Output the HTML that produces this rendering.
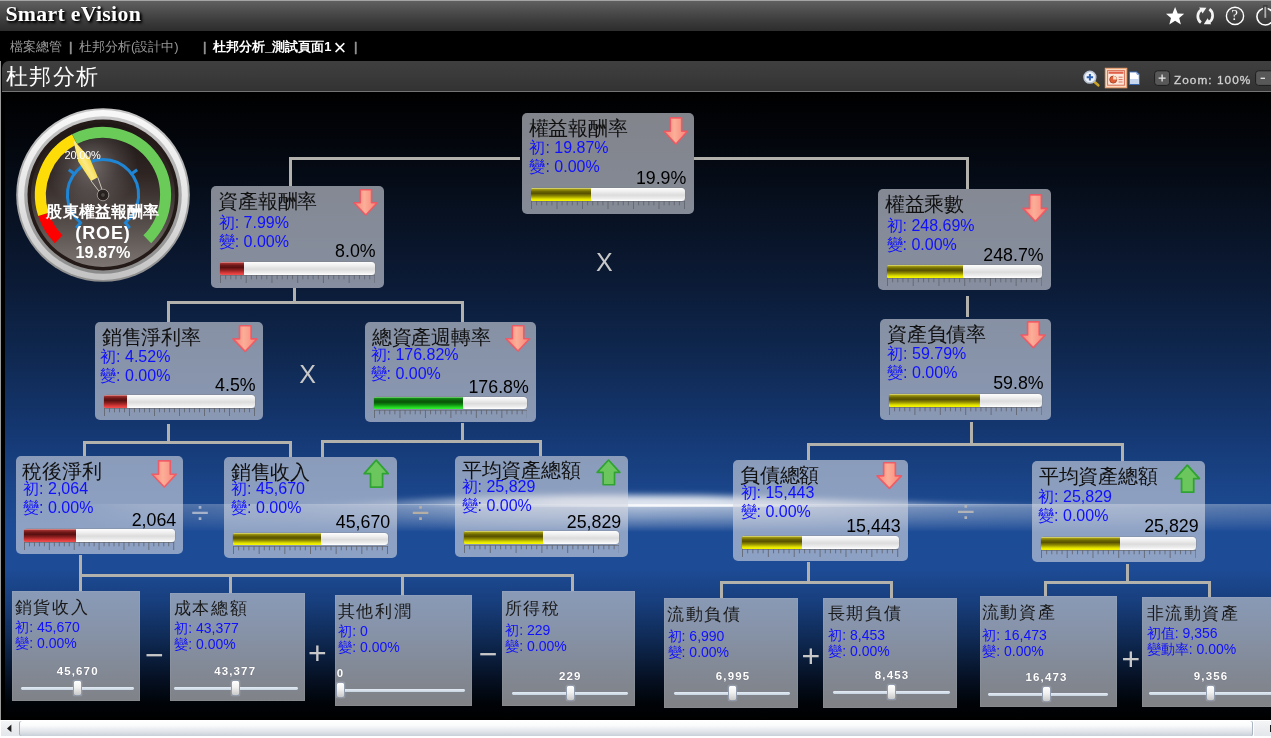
<!DOCTYPE html>
<html><head><meta charset="utf-8"><title>Smart eVision</title>
<style>
*{box-sizing:border-box}
html,body{margin:0;padding:0}
body{width:1271px;height:738px;overflow:hidden;background:#000;position:relative;font-family:"Liberation Sans",sans-serif;}
div,span,svg{position:absolute}
.hdr{left:0;top:0;width:1271px;height:31px;background:linear-gradient(#606060,#4c4c4c 35%,#363636 78%,#2d2d2d);border-top:1px solid #a4a4a4}
.brand{left:5.4px;top:1.6px;font-family:"Liberation Serif",serif;font-weight:bold;font-size:21.8px;color:#fff;text-shadow:2px 2px 3px #000,1px 1px 2px #000;white-space:nowrap;letter-spacing:.3px}
.tabs{left:0;top:31px;width:1271px;height:30px;background:#000}
.tab{top:39px;font-size:13px;color:#9a9a9a;white-space:nowrap;line-height:16px}
.tab.on{color:#fff;font-weight:bold}
.ttl{left:2px;top:61px;width:1269px;height:30px;background:linear-gradient(#3f3f3f,#3b3b3b 40%,#323232);border-radius:7px 0 0 0}
.ttlline{left:2px;top:90.7px;width:1269px;height:1.3px;background:#747474}
.ttltxt{left:5.5px;top:64.3px;font-size:22px;color:#fff;white-space:nowrap;line-height:26px;letter-spacing:1.5px}
.ledge{left:0;top:61px;width:1px;height:660px;background:#9a9a9a}
.cv{left:5px;top:92px;width:1266px;height:628px;background:linear-gradient(to bottom,#000 0%,#03060c 8%,#07101f 18%,#0b1a35 30%,#0f2850 42%,#14366f 53%,#1a4589 63%,#1d4c97 70%,#1d4b95 76%,#183f7e 81%,#0f2a55 87%,#061226 93%,#000307 97.5%,#000 100%)}
.ln{background:#b3b1ab}
.bx{background:rgba(213,216,226,.61);border-radius:5px}
.lf{background:rgba(210,211,216,.61);box-shadow:inset 0 0 0 1px rgba(255,255,255,.06)}
.t{white-space:nowrap;color:#111;font-size:19px;line-height:22px}
.b{white-space:nowrap;color:#1010ff;font-size:16px;line-height:18px}
.v{white-space:nowrap;color:#000;font-size:17px;line-height:18px;text-align:right}
.lt{white-space:nowrap;color:#1a1a1a;font-size:17px;line-height:20px;letter-spacing:1.6px}
.lb{white-space:nowrap;color:#1010ff;font-size:14px;line-height:16px}
.sv{white-space:nowrap;color:#fff;font-weight:bold;font-size:11.5px;line-height:12px;letter-spacing:1.15px;text-shadow:0 0 1px rgba(0,0,0,.35)}
.trk{height:2.8px;background:linear-gradient(#e4edf6,#c6d3e0);border-radius:1.4px}
.thm{width:9.4px;height:16.4px;border-radius:2.5px;background:linear-gradient(#fff,#f1f1f1 45%,#c9c9c9);border:1px solid #929db0;box-shadow:0 0 1px rgba(255,255,255,.7)}
.bar{border-radius:3.5px;background:linear-gradient(#fdfdfd 0%,#f0f0f0 25%,#dcdcdc 55%,#ececec 80%,#fff 100%);box-shadow:0 0 0 .6px rgba(120,120,120,.55)}
.fy{background:linear-gradient(#f2f2a0 0%,#a39c12 9%,#6a6400 28%,#595200 42%,#8f8a00 62%,#e4e400 85%,#f8f800 100%)}
.fr{background:linear-gradient(#f4b0b0 0%,#a33030 9%,#6a1616 28%,#5a1010 42%,#8e2020 62%,#dc3a3a 85%,#f25050 100%)}
.fg{background:linear-gradient(#a0f0a0 0%,#169016 9%,#0a640a 28%,#085408 42%,#0e860e 62%,#22d422 85%,#34f234 100%)}
.fill{border-radius:1.5px 0 0 1.5px}
.op{color:#c8c8c8;white-space:nowrap}
.sb{left:0;top:720px;width:1271px;height:18px;background:#fff}
</style></head>
<body>
<div id="root" style="left:0;top:0;width:1271px;height:738px;will-change:transform">

<div class="hdr"></div>
<div class="brand">Smart eVision</div>
<svg style="left:1160px;top:0" width="111" height="31" viewBox="1160 0 111 31">
<path d="M1175.1 7 L1177.7 13.4 L1184.2 13.7 L1179.2 17.9 L1180.9 24.4 L1175.1 20.8 L1169.3 24.4 L1171 17.9 L1166 13.7 L1172.5 13.4 Z" fill="#fff"/>
<g fill="none" stroke="#f4f4f4" stroke-linecap="butt">
<path d="M1200.9 22.6 A8 8 0 0 1 1201.4 9.6" stroke-width="2.7"/>
<path d="M1209.4 9.2 A8 8 0 0 1 1209.2 22.2" stroke-width="2.7"/>
</g>
<path d="M1199.2 7.4 L1206.4 7.7 L1202.6 13.6 Z" fill="#f4f4f4"/>
<path d="M1211.2 24.2 L1203.8 24.3 L1207.6 18.2 Z" fill="#f4f4f4"/>
<circle cx="1235" cy="15.9" r="8.6" fill="none" stroke="#fff" stroke-width="1.4"/>
<circle cx="1265.3" cy="16.6" r="8.4" fill="none" stroke="#fff" stroke-width="1.6"/>
<rect x="1263" y="5" width="4.6" height="9" fill="#3f3f3f"/>
<rect x="1264.4" y="6.8" width="1.8" height="11" fill="#b0b0b0"/>
</svg>
<div style="left:1231.2px;top:7.2px;font-family:'Liberation Serif',serif;font-size:15px;line-height:17px;color:#fff">?</div>
<div class="tabs"></div>
<div class="tab" style="left:10px">檔案總管</div>
<div class="tab" style="left:69px;-webkit-text-stroke:.6px #9a9a9a">|</div>
<div class="tab" style="left:79px">杜邦分析(設計中)</div>
<div class="tab" style="left:203px;-webkit-text-stroke:.6px #9a9a9a">|</div>
<div class="tab on" style="left:213px">杜邦分析_測試頁面1</div>
<div class="tab on" style="left:333.6px;font-weight:normal;font-size:22px;line-height:22px;top:37px">×</div>
<div class="tab" style="left:354px;-webkit-text-stroke:.6px #9a9a9a">|</div>
<div class="ttl"></div><div class="ttlline"></div><div class="ledge"></div>
<div class="ttltxt">杜邦分析</div>
<svg style="left:1080px;top:64px" width="191" height="27" viewBox="1080 64 191 27">
<line x1="1093.5" y1="81" x2="1098.3" y2="85.3" stroke="#c9a227" stroke-width="2.6" stroke-linecap="round"/>
<circle cx="1089.9" cy="77.2" r="5.9" fill="#eef3fb" stroke="#b9c3d3" stroke-width="1.5"/>
<path d="M1086.7 77.2H1093.1M1089.9 74V80.4" stroke="#2d5fb3" stroke-width="2"/>
<rect x="1105.3" y="68.3" width="21.5" height="19.5" fill="#fbd9bf" stroke="#f0a070" stroke-width="1"/>
<rect x="1107.6" y="70.6" width="16.8" height="14.6" fill="#fce8da" stroke="#d9705a" stroke-width="1"/>
<rect x="1108.6" y="71.6" width="14.8" height="2.2" fill="#e0604a"/>
<circle cx="1113.2" cy="79.6" r="3.5" fill="#e0603a" stroke="#a33a20" stroke-width=".8"/>
<path d="M1113.2 79.6 V76.1 A3.5 3.5 0 0 1 1116.7 79.6 Z" fill="#fbe0c8"/>
<path d="M1118.6 77.2H1122.6M1118.6 79.6H1122.6M1118.6 82H1122.6" stroke="#d9705a" stroke-width="1"/>
<path d="M1129.4 71.9 H1137 L1139.3 74.2 V84.5 H1129.4 Z" fill="#fff" stroke="#3a66ad" stroke-width="1"/>
<path d="M1130 79 H1138.8 V84 H1130 Z" fill="#c5d6ee"/>
<path d="M1137 71.9 V74.2 H1139.3" fill="none" stroke="#3a66ad" stroke-width=".8"/>
<rect x="1154.6" y="70.8" width="15" height="14.6" rx="3" fill="#585858" stroke="#1e1e1e" stroke-width="1"/>
<path d="M1158.6 78.1H1165.6M1162.1 74.6V81.6" stroke="#e8e8e8" stroke-width="1.3"/>
<rect x="1255.6" y="70.8" width="18" height="14.6" rx="3" fill="#585858" stroke="#1e1e1e" stroke-width="1"/>
<path d="M1260.6 78.3H1265" stroke="#e8e8e8" stroke-width="1.3"/>
</svg>
<div style="left:1174px;top:73.6px;font-size:11.8px;line-height:13px;color:#d2d2d2;letter-spacing:1.05px;white-space:nowrap;-webkit-text-stroke:.3px #d2d2d2">Zoom: 100%</div>
<div class="cv"></div>
<svg style="left:5px;top:470px" width="1266" height="36" viewBox="5 470 1266 36">
<defs>
<filter id="fb" x="-5%" y="-200%" width="110%" height="500%"><feGaussianBlur stdDeviation="9 3.1"/></filter>
<linearGradient id="fg1" x1="5" x2="1271" y1="0" y2="0" gradientUnits="userSpaceOnUse">
<stop offset="0.22" stop-color="#fff" stop-opacity="0"/><stop offset="0.30" stop-color="#fff" stop-opacity=".3"/><stop offset="0.38" stop-color="#fff" stop-opacity=".6"/><stop offset="0.44" stop-color="#fff" stop-opacity=".85"/><stop offset="0.56" stop-color="#fff" stop-opacity=".85"/><stop offset="0.66" stop-color="#fff" stop-opacity=".7"/><stop offset="0.74" stop-color="#fff" stop-opacity=".5"/><stop offset="0.80" stop-color="#fff" stop-opacity=".3"/><stop offset="0.86" stop-color="#fff" stop-opacity="0"/>
</linearGradient>
<clipPath id="fcp"><rect x="5" y="470" width="1266" height="34.5"/></clipPath>
</defs>
<g clip-path="url(#fcp)"><path filter="url(#fb)" fill="url(#fg1)" d="M270 506 L360 502.5 L430 499 L510 496 L600 495 L700 495.5 L780 498 L860 501 L940 504 L1020 506 L1090 507 V518 H270 Z"/></g>
</svg>
<div style="left:5px;top:504px;width:1266px;height:28px;background:linear-gradient(to bottom,rgba(255,255,255,.8),rgba(255,255,255,.64) 18%,rgba(255,255,255,.47) 45%,rgba(255,255,255,.24) 74%,rgba(255,255,255,0) 100%);-webkit-mask-image:linear-gradient(to right,rgba(0,0,0,0) 0.0%,rgba(0,0,0,0) 4.3%,rgba(0,0,0,0.27) 11.5%,rgba(0,0,0,0.4) 23.3%,rgba(0,0,0,0.62) 32.8%,rgba(0,0,0,0.85) 40.7%,rgba(0,0,0,0.95) 50.2%,rgba(0,0,0,0.85) 59.6%,rgba(0,0,0,0.6) 70.7%,rgba(0,0,0,0.52) 78.6%,rgba(0,0,0,0.38) 100.0%);mask-image:linear-gradient(to right,rgba(0,0,0,0) 0.0%,rgba(0,0,0,0) 4.3%,rgba(0,0,0,0.27) 11.5%,rgba(0,0,0,0.4) 23.3%,rgba(0,0,0,0.62) 32.8%,rgba(0,0,0,0.85) 40.7%,rgba(0,0,0,0.95) 50.2%,rgba(0,0,0,0.85) 59.6%,rgba(0,0,0,0.6) 70.7%,rgba(0,0,0,0.52) 78.6%,rgba(0,0,0,0.38) 100.0%)"></div>
<div style="left:5px;top:503.5px;width:1266px;height:3.5px;background:linear-gradient(to bottom,rgba(255,255,255,.5),rgba(255,255,255,.95) 45%,rgba(255,255,255,.6));-webkit-mask-image:linear-gradient(to right,rgba(0,0,0,0) 0.0%,rgba(0,0,0,0) 33.6%,rgba(0,0,0,0.35) 40.7%,rgba(0,0,0,0.8) 46.2%,rgba(0,0,0,0.95) 50.2%,rgba(0,0,0,0.95) 57.3%,rgba(0,0,0,0.55) 62.8%,rgba(0,0,0,0.2) 70.7%,rgba(0,0,0,0.05) 78.6%,rgba(0,0,0,0) 100.0%);mask-image:linear-gradient(to right,rgba(0,0,0,0) 0.0%,rgba(0,0,0,0) 33.6%,rgba(0,0,0,0.35) 40.7%,rgba(0,0,0,0.8) 46.2%,rgba(0,0,0,0.95) 50.2%,rgba(0,0,0,0.95) 57.3%,rgba(0,0,0,0.55) 62.8%,rgba(0,0,0,0.2) 70.7%,rgba(0,0,0,0.05) 78.6%,rgba(0,0,0,0) 100.0%)"></div>
<div class="ln" style="left:289.0px;top:157.0px;width:231.0px;height:3.0px"></div>
<div class="ln" style="left:289.0px;top:157.0px;width:3.0px;height:29.0px"></div>
<div class="ln" style="left:694.0px;top:157.0px;width:275.0px;height:3.0px"></div>
<div class="ln" style="left:966.0px;top:157.0px;width:3.0px;height:32.0px"></div>
<div class="ln" style="left:293.0px;top:287.5px;width:3.0px;height:14.5px"></div>
<div class="ln" style="left:167.0px;top:301.0px;width:297.0px;height:3.0px"></div>
<div class="ln" style="left:167.0px;top:301.0px;width:3.0px;height:21.0px"></div>
<div class="ln" style="left:461.0px;top:301.0px;width:3.0px;height:21.0px"></div>
<div class="ln" style="left:966.2px;top:295.6px;width:2.8px;height:21.0px"></div>
<div class="ln" style="left:970.0px;top:422.4px;width:3.0px;height:21.6px"></div>
<div class="ln" style="left:807.0px;top:443.0px;width:317.0px;height:3.0px"></div>
<div class="ln" style="left:807.0px;top:443.0px;width:3.0px;height:17.0px"></div>
<div class="ln" style="left:1121.0px;top:443.0px;width:3.0px;height:18.0px"></div>
<div class="ln" style="left:167.4px;top:424.0px;width:2.6px;height:18.0px"></div>
<div class="ln" style="left:83.0px;top:441.0px;width:209.0px;height:3.0px"></div>
<div class="ln" style="left:83.0px;top:441.0px;width:3.0px;height:15.4px"></div>
<div class="ln" style="left:289.0px;top:441.0px;width:3.0px;height:16.0px"></div>
<div class="ln" style="left:461.0px;top:423.0px;width:3.0px;height:18.0px"></div>
<div class="ln" style="left:321.0px;top:440.0px;width:221.0px;height:3.0px"></div>
<div class="ln" style="left:321.0px;top:440.0px;width:3.0px;height:17.0px"></div>
<div class="ln" style="left:539.0px;top:440.0px;width:3.0px;height:16.0px"></div>
<div class="ln" style="left:79.4px;top:555.0px;width:2.6px;height:21.0px"></div>
<div class="ln" style="left:79.4px;top:574.4px;width:494.6px;height:3.0px"></div>
<div class="ln" style="left:79.4px;top:576.0px;width:2.6px;height:15.4px"></div>
<div class="ln" style="left:229.0px;top:576.0px;width:3.0px;height:16.6px"></div>
<div class="ln" style="left:401.0px;top:576.0px;width:3.0px;height:19.0px"></div>
<div class="ln" style="left:571.0px;top:576.0px;width:3.0px;height:15.4px"></div>
<div class="ln" style="left:807.0px;top:562.0px;width:3.0px;height:20.0px"></div>
<div class="ln" style="left:720.0px;top:581.0px;width:173.0px;height:3.0px"></div>
<div class="ln" style="left:720.0px;top:581.0px;width:3.0px;height:17.4px"></div>
<div class="ln" style="left:890.4px;top:581.0px;width:2.6px;height:16.6px"></div>
<div class="ln" style="left:1126.4px;top:564.0px;width:2.6px;height:18.0px"></div>
<div class="ln" style="left:1044.0px;top:580.6px;width:167.0px;height:3.4px"></div>
<div class="ln" style="left:1044.0px;top:581.0px;width:3.0px;height:15.4px"></div>
<div class="ln" style="left:1208.0px;top:581.0px;width:3.0px;height:16.0px"></div>
<div class="op" style="left:584.3px;width:40px;text-align:center;top:250.4px;font-size:25px;line-height:25px">X</div>
<div class="op" style="left:287.5px;width:40px;text-align:center;top:361.6px;font-size:25px;line-height:25px">X</div>
<div class="op" style="left:180.0px;width:40px;text-align:center;top:496.0px;font-size:32px;line-height:32px;color:#a6b2c9">÷</div>
<div class="op" style="left:400.5px;width:40px;text-align:center;top:496.0px;font-size:32px;line-height:32px;color:#b4aea4">÷</div>
<div class="op" style="left:945.8px;width:40px;text-align:center;top:495.4px;font-size:32px;line-height:32px;color:#b0b4b8">÷</div>
<div class="op" style="left:134.3px;width:40px;text-align:center;top:638.6px;font-size:32px;line-height:32px">−</div>
<div class="op" style="left:297.3px;width:40px;text-align:center;top:636.7px;font-size:32px;line-height:32px">+</div>
<div class="op" style="left:468.2px;width:40px;text-align:center;top:637.6px;font-size:32px;line-height:32px">−</div>
<div class="op" style="left:790.8px;width:40px;text-align:center;top:640.4px;font-size:32px;line-height:32px">+</div>
<div class="op" style="left:1110.8px;width:40px;text-align:center;top:643.4px;font-size:32px;line-height:32px">+</div>
<div class="bx" style="left:522.0px;top:113.0px;width:172.0px;height:101.0px"></div>
<div class="t" style="left:528.6px;top:116.9px;font-size:20.00px;letter-spacing:-.25px">權益報酬率</div>
<div class="b" style="left:529.4px;top:138.6px;font-size:16.00px">初: 19.87%</div>
<div class="b" style="left:529.4px;top:157.6px;font-size:16.00px">變: 0.00%</div>
<div class="v" style="left:566.3px;width:120px;top:169.3px;font-size:17.80px">19.9%</div>
<svg style="left:662.8px;top:116.7px;overflow:visible" width="25.2" height="28.1" viewBox="0 0 25 27" preserveAspectRatio="none"><defs><linearGradient id="ad0" x1="0" x2="1" y1="0" y2="0"><stop offset="0" stop-color="#f88478"/><stop offset=".45" stop-color="#fbae98"/><stop offset="1" stop-color="#f88478"/></linearGradient></defs><path d="M7.3 0.8 H18.5 V13.7 H24.2 L12.8 26 L1 13.7 H7.3 Z" fill="url(#ad0)" stroke="#f4525e" stroke-opacity=".85" stroke-width="1.6" stroke-linejoin="round"/></svg>
<div class="bar" style="left:531.0px;top:188.0px;width:154.0px;height:13.0px"></div>
<div class="fill fy" style="left:531.0px;top:188.0px;width:60.3px;height:13.0px"></div>
<svg style="left:531.0px;top:201.3px" width="154.0" height="9"><path d="M0 .5H154.0" stroke="#6d717b" stroke-opacity=".75" stroke-width="1" fill="none"/><path d="M0.50 0V8M5.60 0V4.3M10.70 0V4.3M15.80 0V4.3M20.90 0V4.3M26.00 0V8M31.10 0V4.3M36.20 0V4.3M41.30 0V4.3M46.40 0V4.3M51.50 0V8M56.60 0V4.3M61.70 0V4.3M66.80 0V4.3M71.90 0V4.3M77.00 0V8M82.10 0V4.3M87.20 0V4.3M92.30 0V4.3M97.40 0V4.3M102.50 0V8M107.60 0V4.3M112.70 0V4.3M117.80 0V4.3M122.90 0V4.3M128.00 0V8M133.10 0V4.3M138.20 0V4.3M143.30 0V4.3M148.40 0V4.3M153.50 0V8" stroke="#5f636d" stroke-opacity=".82" stroke-width="1" fill="none"/></svg>
<div class="bx" style="left:210.5px;top:186.0px;width:173.5px;height:101.5px"></div>
<div class="t" style="left:218.4px;top:189.6px;font-size:20.00px;letter-spacing:-.25px">資產報酬率</div>
<div class="b" style="left:218.7px;top:214.1px;font-size:16.00px">初: 7.99%</div>
<div class="b" style="left:218.7px;top:232.7px;font-size:16.00px">變: 0.00%</div>
<div class="v" style="left:255.6px;width:120px;top:242.2px;font-size:17.80px">8.0%</div>
<svg style="left:353.0px;top:189.0px;overflow:visible" width="25.0" height="27.0" viewBox="0 0 25 27" preserveAspectRatio="none"><defs><linearGradient id="ad1" x1="0" x2="1" y1="0" y2="0"><stop offset="0" stop-color="#f88478"/><stop offset=".45" stop-color="#fbae98"/><stop offset="1" stop-color="#f88478"/></linearGradient></defs><path d="M7.3 0.8 H18.5 V13.7 H24.2 L12.8 26 L1 13.7 H7.3 Z" fill="url(#ad1)" stroke="#f4525e" stroke-opacity=".85" stroke-width="1.6" stroke-linejoin="round"/></svg>
<div class="bar" style="left:219.6px;top:262.0px;width:155.4px;height:12.6px"></div>
<div class="fill fr" style="left:219.6px;top:262.0px;width:24.8px;height:12.6px"></div>
<svg style="left:219.6px;top:274.9px" width="155.4" height="9"><path d="M0 .5H155.4" stroke="#6d717b" stroke-opacity=".75" stroke-width="1" fill="none"/><path d="M0.50 0V8M5.65 0V4.3M10.79 0V4.3M15.94 0V4.3M21.09 0V4.3M26.23 0V8M31.38 0V4.3M36.53 0V4.3M41.67 0V4.3M46.82 0V4.3M51.97 0V8M57.11 0V4.3M62.26 0V4.3M67.41 0V4.3M72.55 0V4.3M77.70 0V8M82.85 0V4.3M87.99 0V4.3M93.14 0V4.3M98.29 0V4.3M103.43 0V8M108.58 0V4.3M113.73 0V4.3M118.87 0V4.3M124.02 0V4.3M129.17 0V8M134.31 0V4.3M139.46 0V4.3M144.61 0V4.3M149.75 0V4.3M154.90 0V8" stroke="#5f636d" stroke-opacity=".82" stroke-width="1" fill="none"/></svg>
<div class="bx" style="left:878.0px;top:189.0px;width:173.0px;height:101.4px"></div>
<div class="t" style="left:884.8px;top:193.1px;font-size:20.00px;letter-spacing:-.25px">權益乘數</div>
<div class="b" style="left:886.5px;top:216.7px;font-size:16.00px">初: 248.69%</div>
<div class="b" style="left:886.5px;top:236.1px;font-size:16.00px">變: 0.00%</div>
<div class="v" style="left:923.6px;width:120px;top:245.6px;font-size:17.80px">248.7%</div>
<svg style="left:1022.4px;top:194.0px;overflow:visible" width="26.2" height="28.4" viewBox="0 0 25 27" preserveAspectRatio="none"><defs><linearGradient id="ad2" x1="0" x2="1" y1="0" y2="0"><stop offset="0" stop-color="#f88478"/><stop offset=".45" stop-color="#fbae98"/><stop offset="1" stop-color="#f88478"/></linearGradient></defs><path d="M7.3 0.8 H18.5 V13.7 H24.2 L12.8 26 L1 13.7 H7.3 Z" fill="url(#ad2)" stroke="#f4525e" stroke-opacity=".85" stroke-width="1.6" stroke-linejoin="round"/></svg>
<div class="bar" style="left:886.6px;top:265.0px;width:155.4px;height:12.6px"></div>
<div class="fill fy" style="left:886.6px;top:265.0px;width:76.4px;height:12.6px"></div>
<svg style="left:886.6px;top:277.9px" width="155.4" height="9"><path d="M0 .5H155.4" stroke="#6d717b" stroke-opacity=".75" stroke-width="1" fill="none"/><path d="M0.50 0V8M5.65 0V4.3M10.79 0V4.3M15.94 0V4.3M21.09 0V4.3M26.23 0V8M31.38 0V4.3M36.53 0V4.3M41.67 0V4.3M46.82 0V4.3M51.97 0V8M57.11 0V4.3M62.26 0V4.3M67.41 0V4.3M72.55 0V4.3M77.70 0V8M82.85 0V4.3M87.99 0V4.3M93.14 0V4.3M98.29 0V4.3M103.43 0V8M108.58 0V4.3M113.73 0V4.3M118.87 0V4.3M124.02 0V4.3M129.17 0V8M134.31 0V4.3M139.46 0V4.3M144.61 0V4.3M149.75 0V4.3M154.90 0V8" stroke="#5f636d" stroke-opacity=".82" stroke-width="1" fill="none"/></svg>
<div class="bx" style="left:95.0px;top:322.0px;width:168.4px;height:98.4px"></div>
<div class="t" style="left:101.8px;top:326.2px;font-size:20.00px;letter-spacing:-.25px">銷售淨利率</div>
<div class="b" style="left:100.1px;top:348.1px;font-size:16.00px">初: 4.52%</div>
<div class="b" style="left:100.1px;top:367.1px;font-size:16.00px">變: 0.00%</div>
<div class="v" style="left:135.6px;width:120px;top:376.2px;font-size:17.80px">4.5%</div>
<svg style="left:231.6px;top:324.6px;overflow:visible" width="25.8" height="27.4" viewBox="0 0 25 27" preserveAspectRatio="none"><defs><linearGradient id="ad3" x1="0" x2="1" y1="0" y2="0"><stop offset="0" stop-color="#f88478"/><stop offset=".45" stop-color="#fbae98"/><stop offset="1" stop-color="#f88478"/></linearGradient></defs><path d="M7.3 0.8 H18.5 V13.7 H24.2 L12.8 26 L1 13.7 H7.3 Z" fill="url(#ad3)" stroke="#f4525e" stroke-opacity=".85" stroke-width="1.6" stroke-linejoin="round"/></svg>
<div class="bar" style="left:104.0px;top:395.4px;width:151.0px;height:12.6px"></div>
<div class="fill fr" style="left:104.0px;top:395.4px;width:23.0px;height:12.6px"></div>
<svg style="left:104.0px;top:408.3px" width="151.0" height="9"><path d="M0 .5H151.0" stroke="#6d717b" stroke-opacity=".75" stroke-width="1" fill="none"/><path d="M0.50 0V8M5.50 0V4.3M10.50 0V4.3M15.50 0V4.3M20.50 0V4.3M25.50 0V8M30.50 0V4.3M35.50 0V4.3M40.50 0V4.3M45.50 0V4.3M50.50 0V8M55.50 0V4.3M60.50 0V4.3M65.50 0V4.3M70.50 0V4.3M75.50 0V8M80.50 0V4.3M85.50 0V4.3M90.50 0V4.3M95.50 0V4.3M100.50 0V8M105.50 0V4.3M110.50 0V4.3M115.50 0V4.3M120.50 0V4.3M125.50 0V8M130.50 0V4.3M135.50 0V4.3M140.50 0V4.3M145.50 0V4.3M150.50 0V8" stroke="#5f636d" stroke-opacity=".82" stroke-width="1" fill="none"/></svg>
<div class="bx" style="left:365.0px;top:322.0px;width:171.0px;height:100.0px"></div>
<div class="t" style="left:371.8px;top:325.6px;font-size:20.00px;letter-spacing:-.25px">總資產週轉率</div>
<div class="b" style="left:370.5px;top:346.1px;font-size:16.00px">初: 176.82%</div>
<div class="b" style="left:370.5px;top:365.1px;font-size:16.00px">變: 0.00%</div>
<div class="v" style="left:408.8px;width:120px;top:377.6px;font-size:17.80px">176.8%</div>
<svg style="left:504.6px;top:324.6px;overflow:visible" width="25.4" height="27.0" viewBox="0 0 25 27" preserveAspectRatio="none"><defs><linearGradient id="ad4" x1="0" x2="1" y1="0" y2="0"><stop offset="0" stop-color="#f88478"/><stop offset=".45" stop-color="#fbae98"/><stop offset="1" stop-color="#f88478"/></linearGradient></defs><path d="M7.3 0.8 H18.5 V13.7 H24.2 L12.8 26 L1 13.7 H7.3 Z" fill="url(#ad4)" stroke="#f4525e" stroke-opacity=".85" stroke-width="1.6" stroke-linejoin="round"/></svg>
<div class="bar" style="left:373.6px;top:397.0px;width:153.8px;height:12.4px"></div>
<div class="fill fg" style="left:373.6px;top:397.0px;width:89.4px;height:12.4px"></div>
<svg style="left:373.6px;top:409.7px" width="153.8" height="9"><path d="M0 .5H153.8" stroke="#6d717b" stroke-opacity=".75" stroke-width="1" fill="none"/><path d="M0.50 0V8M5.59 0V4.3M10.69 0V4.3M15.78 0V4.3M20.87 0V4.3M25.97 0V8M31.06 0V4.3M36.15 0V4.3M41.25 0V4.3M46.34 0V4.3M51.43 0V8M56.53 0V4.3M61.62 0V4.3M66.71 0V4.3M71.81 0V4.3M76.90 0V8M81.99 0V4.3M87.09 0V4.3M92.18 0V4.3M97.27 0V4.3M102.37 0V8M107.46 0V4.3M112.55 0V4.3M117.65 0V4.3M122.74 0V4.3M127.83 0V8M132.93 0V4.3M138.02 0V4.3M143.11 0V4.3M148.21 0V4.3M153.30 0V8" stroke="#5f636d" stroke-opacity=".82" stroke-width="1" fill="none"/></svg>
<div class="bx" style="left:880.0px;top:319.0px;width:171.0px;height:101.0px"></div>
<div class="t" style="left:887.2px;top:323.2px;font-size:20.00px;letter-spacing:-.25px">資產負債率</div>
<div class="b" style="left:887.1px;top:345.1px;font-size:16.00px">初: 59.79%</div>
<div class="b" style="left:887.1px;top:364.1px;font-size:16.00px">變: 0.00%</div>
<div class="v" style="left:923.6px;width:120px;top:374.2px;font-size:17.80px">59.8%</div>
<svg style="left:1019.6px;top:321.4px;overflow:visible" width="26.0" height="27.6" viewBox="0 0 25 27" preserveAspectRatio="none"><defs><linearGradient id="ad5" x1="0" x2="1" y1="0" y2="0"><stop offset="0" stop-color="#f88478"/><stop offset=".45" stop-color="#fbae98"/><stop offset="1" stop-color="#f88478"/></linearGradient></defs><path d="M7.3 0.8 H18.5 V13.7 H24.2 L12.8 26 L1 13.7 H7.3 Z" fill="url(#ad5)" stroke="#f4525e" stroke-opacity=".85" stroke-width="1.6" stroke-linejoin="round"/></svg>
<div class="bar" style="left:888.6px;top:394.0px;width:153.4px;height:12.6px"></div>
<div class="fill fy" style="left:888.6px;top:394.0px;width:91.4px;height:12.6px"></div>
<svg style="left:888.6px;top:406.9px" width="153.4" height="9"><path d="M0 .5H153.4" stroke="#6d717b" stroke-opacity=".75" stroke-width="1" fill="none"/><path d="M0.50 0V8M5.58 0V4.3M10.66 0V4.3M15.74 0V4.3M20.82 0V4.3M25.90 0V8M30.98 0V4.3M36.06 0V4.3M41.14 0V4.3M46.22 0V4.3M51.30 0V8M56.38 0V4.3M61.46 0V4.3M66.54 0V4.3M71.62 0V4.3M76.70 0V8M81.78 0V4.3M86.86 0V4.3M91.94 0V4.3M97.02 0V4.3M102.10 0V8M107.18 0V4.3M112.26 0V4.3M117.34 0V4.3M122.42 0V4.3M127.50 0V8M132.58 0V4.3M137.66 0V4.3M142.74 0V4.3M147.82 0V4.3M152.90 0V8" stroke="#5f636d" stroke-opacity=".82" stroke-width="1" fill="none"/></svg>
<div class="bx" style="left:16.0px;top:456.4px;width:167.0px;height:97.6px"></div>
<div class="t" style="left:22.4px;top:460.2px;font-size:20.00px;letter-spacing:-.25px">稅後淨利</div>
<div class="b" style="left:23.1px;top:479.7px;font-size:16.00px">初: 2,064</div>
<div class="b" style="left:23.1px;top:498.7px;font-size:16.00px">變: 0.00%</div>
<div class="v" style="left:56.2px;width:120px;top:510.6px;font-size:17.80px">2,064</div>
<svg style="left:151.4px;top:460.0px;overflow:visible" width="26.0" height="28.0" viewBox="0 0 25 27" preserveAspectRatio="none"><defs><linearGradient id="ad6" x1="0" x2="1" y1="0" y2="0"><stop offset="0" stop-color="#f88478"/><stop offset=".45" stop-color="#fbae98"/><stop offset="1" stop-color="#f88478"/></linearGradient></defs><path d="M7.3 0.8 H18.5 V13.7 H24.2 L12.8 26 L1 13.7 H7.3 Z" fill="url(#ad6)" stroke="#f4525e" stroke-opacity=".85" stroke-width="1.6" stroke-linejoin="round"/></svg>
<div class="bar" style="left:24.4px;top:529.0px;width:150.2px;height:12.6px"></div>
<div class="fill fr" style="left:24.4px;top:529.0px;width:51.6px;height:12.6px"></div>
<svg style="left:24.4px;top:541.9px" width="150.2" height="9"><path d="M0 .5H150.2" stroke="#6d717b" stroke-opacity=".75" stroke-width="1" fill="none"/><path d="M0.50 0V8M5.47 0V4.3M10.45 0V4.3M15.42 0V4.3M20.39 0V4.3M25.37 0V8M30.34 0V4.3M35.31 0V4.3M40.29 0V4.3M45.26 0V4.3M50.23 0V8M55.21 0V4.3M60.18 0V4.3M65.15 0V4.3M70.13 0V4.3M75.10 0V8M80.07 0V4.3M85.05 0V4.3M90.02 0V4.3M94.99 0V4.3M99.97 0V8M104.94 0V4.3M109.91 0V4.3M114.89 0V4.3M119.86 0V4.3M124.83 0V8M129.81 0V4.3M134.78 0V4.3M139.75 0V4.3M144.73 0V4.3M149.70 0V8" stroke="#5f636d" stroke-opacity=".82" stroke-width="1" fill="none"/></svg>
<div class="bx" style="left:224.0px;top:457.0px;width:173.0px;height:101.0px"></div>
<div class="t" style="left:230.8px;top:460.6px;font-size:20.00px;letter-spacing:-.25px">銷售收入</div>
<div class="b" style="left:231.1px;top:479.7px;font-size:16.00px">初: 45,670</div>
<div class="b" style="left:231.1px;top:498.7px;font-size:16.00px">變: 0.00%</div>
<div class="v" style="left:270.2px;width:120px;top:513.0px;font-size:17.80px">45,670</div>
<svg style="left:363.0px;top:458.6px;overflow:visible" width="26.4" height="29.4" viewBox="0 0 27 30" preserveAspectRatio="none"><path d="M13.5 1.2 L25.8 15 H20 V28.8 H7.7 V15 H1.2 Z" fill="#6cc65e" stroke="#30a233" stroke-width="1.8" stroke-linejoin="round"/></svg>
<div class="bar" style="left:233.0px;top:533.0px;width:155.0px;height:12.4px"></div>
<div class="fill fy" style="left:233.0px;top:533.0px;width:87.6px;height:12.4px"></div>
<svg style="left:233.0px;top:545.7px" width="155.0" height="9"><path d="M0 .5H155.0" stroke="#6d717b" stroke-opacity=".75" stroke-width="1" fill="none"/><path d="M0.50 0V8M5.63 0V4.3M10.77 0V4.3M15.90 0V4.3M21.03 0V4.3M26.17 0V8M31.30 0V4.3M36.43 0V4.3M41.57 0V4.3M46.70 0V4.3M51.83 0V8M56.97 0V4.3M62.10 0V4.3M67.23 0V4.3M72.37 0V4.3M77.50 0V8M82.63 0V4.3M87.77 0V4.3M92.90 0V4.3M98.03 0V4.3M103.17 0V8M108.30 0V4.3M113.43 0V4.3M118.57 0V4.3M123.70 0V4.3M128.83 0V8M133.97 0V4.3M139.10 0V4.3M144.23 0V4.3M149.37 0V4.3M154.50 0V8" stroke="#5f636d" stroke-opacity=".82" stroke-width="1" fill="none"/></svg>
<div class="bx" style="left:455.0px;top:456.0px;width:173.0px;height:100.6px"></div>
<div class="t" style="left:461.8px;top:459.0px;font-size:20.00px;letter-spacing:-.25px">平均資產總額</div>
<div class="b" style="left:461.5px;top:478.1px;font-size:16.00px">初: 25,829</div>
<div class="b" style="left:461.5px;top:497.1px;font-size:16.00px">變: 0.00%</div>
<div class="v" style="left:501.2px;width:120px;top:512.6px;font-size:17.80px">25,829</div>
<svg style="left:596.0px;top:458.6px;overflow:visible" width="25.0" height="26.8" viewBox="0 0 27 30" preserveAspectRatio="none"><path d="M13.5 1.2 L25.8 15 H20 V28.8 H7.7 V15 H1.2 Z" fill="#6cc65e" stroke="#30a233" stroke-width="1.8" stroke-linejoin="round"/></svg>
<div class="bar" style="left:463.6px;top:531.4px;width:155.8px;height:13.0px"></div>
<div class="fill fy" style="left:463.6px;top:531.4px;width:79.4px;height:13.0px"></div>
<svg style="left:463.6px;top:544.7px" width="155.8" height="9"><path d="M0 .5H155.8" stroke="#6d717b" stroke-opacity=".75" stroke-width="1" fill="none"/><path d="M0.50 0V8M5.66 0V4.3M10.82 0V4.3M15.98 0V4.3M21.14 0V4.3M26.30 0V8M31.46 0V4.3M36.62 0V4.3M41.78 0V4.3M46.94 0V4.3M52.10 0V8M57.26 0V4.3M62.42 0V4.3M67.58 0V4.3M72.74 0V4.3M77.90 0V8M83.06 0V4.3M88.22 0V4.3M93.38 0V4.3M98.54 0V4.3M103.70 0V8M108.86 0V4.3M114.02 0V4.3M119.18 0V4.3M124.34 0V4.3M129.50 0V8M134.66 0V4.3M139.82 0V4.3M144.98 0V4.3M150.14 0V4.3M155.30 0V8" stroke="#5f636d" stroke-opacity=".82" stroke-width="1" fill="none"/></svg>
<div class="bx" style="left:733.0px;top:460.0px;width:174.6px;height:101.4px"></div>
<div class="t" style="left:740.2px;top:463.6px;font-size:20.00px;letter-spacing:-.25px">負債總額</div>
<div class="b" style="left:740.5px;top:483.7px;font-size:16.00px">初: 15,443</div>
<div class="b" style="left:740.5px;top:502.7px;font-size:16.00px">變: 0.00%</div>
<div class="v" style="left:780.6px;width:120px;top:516.6px;font-size:17.80px">15,443</div>
<svg style="left:876.4px;top:461.6px;overflow:visible" width="26.2" height="27.4" viewBox="0 0 25 27" preserveAspectRatio="none"><defs><linearGradient id="ad9" x1="0" x2="1" y1="0" y2="0"><stop offset="0" stop-color="#f88478"/><stop offset=".45" stop-color="#fbae98"/><stop offset="1" stop-color="#f88478"/></linearGradient></defs><path d="M7.3 0.8 H18.5 V13.7 H24.2 L12.8 26 L1 13.7 H7.3 Z" fill="url(#ad9)" stroke="#f4525e" stroke-opacity=".85" stroke-width="1.6" stroke-linejoin="round"/></svg>
<div class="bar" style="left:742.4px;top:536.0px;width:156.2px;height:12.6px"></div>
<div class="fill fy" style="left:742.4px;top:536.0px;width:59.6px;height:12.6px"></div>
<svg style="left:742.4px;top:548.9px" width="156.2" height="9"><path d="M0 .5H156.2" stroke="#6d717b" stroke-opacity=".75" stroke-width="1" fill="none"/><path d="M0.50 0V8M5.67 0V4.3M10.85 0V4.3M16.02 0V4.3M21.19 0V4.3M26.37 0V8M31.54 0V4.3M36.71 0V4.3M41.89 0V4.3M47.06 0V4.3M52.23 0V8M57.41 0V4.3M62.58 0V4.3M67.75 0V4.3M72.93 0V4.3M78.10 0V8M83.27 0V4.3M88.45 0V4.3M93.62 0V4.3M98.79 0V4.3M103.97 0V8M109.14 0V4.3M114.31 0V4.3M119.49 0V4.3M124.66 0V4.3M129.83 0V8M135.01 0V4.3M140.18 0V4.3M145.35 0V4.3M150.53 0V4.3M155.70 0V8" stroke="#5f636d" stroke-opacity=".82" stroke-width="1" fill="none"/></svg>
<div class="bx" style="left:1032.0px;top:461.0px;width:173.0px;height:101.4px"></div>
<div class="t" style="left:1038.8px;top:465.0px;font-size:20.00px;letter-spacing:-.25px">平均資產總額</div>
<div class="b" style="left:1038.1px;top:487.7px;font-size:16.00px">初: 25,829</div>
<div class="b" style="left:1038.1px;top:507.1px;font-size:16.00px">變: 0.00%</div>
<div class="v" style="left:1078.6px;width:120px;top:517.2px;font-size:17.80px">25,829</div>
<svg style="left:1174.0px;top:463.6px;overflow:visible" width="26.6" height="29.4" viewBox="0 0 27 30" preserveAspectRatio="none"><path d="M13.5 1.2 L25.8 15 H20 V28.8 H7.7 V15 H1.2 Z" fill="#6cc65e" stroke="#30a233" stroke-width="1.8" stroke-linejoin="round"/></svg>
<div class="bar" style="left:1041.0px;top:537.0px;width:155.4px;height:13.0px"></div>
<div class="fill fy" style="left:1041.0px;top:537.0px;width:79.0px;height:13.0px"></div>
<svg style="left:1041.0px;top:550.3px" width="155.4" height="9"><path d="M0 .5H155.4" stroke="#6d717b" stroke-opacity=".75" stroke-width="1" fill="none"/><path d="M0.50 0V8M5.65 0V4.3M10.79 0V4.3M15.94 0V4.3M21.09 0V4.3M26.23 0V8M31.38 0V4.3M36.53 0V4.3M41.67 0V4.3M46.82 0V4.3M51.97 0V8M57.11 0V4.3M62.26 0V4.3M67.41 0V4.3M72.55 0V4.3M77.70 0V8M82.85 0V4.3M87.99 0V4.3M93.14 0V4.3M98.29 0V4.3M103.43 0V8M108.58 0V4.3M113.73 0V4.3M118.87 0V4.3M124.02 0V4.3M129.17 0V8M134.31 0V4.3M139.46 0V4.3M144.61 0V4.3M149.75 0V4.3M154.90 0V8" stroke="#5f636d" stroke-opacity=".82" stroke-width="1" fill="none"/></svg>
<div class="lf" style="left:12.4px;top:591.4px;width:127.2px;height:110.0px"></div>
<div class="lt" style="left:14.9px;top:598.4px">銷貨收入</div>
<div class="lb" style="left:15.2px;top:618.8px">初: 45,670</div>
<div class="lb" style="left:15.2px;top:634.8px">變: 0.00%</div>
<div class="sv" style="left:37.7px;width:80px;text-align:center;top:665.2px">45,670</div>
<div class="trk" style="left:20.6px;top:687.1px;width:113.8px"></div>
<div class="thm" style="left:73.0px;top:680.0px"></div>
<div class="lf" style="left:170.4px;top:592.6px;width:134.2px;height:108.8px"></div>
<div class="lt" style="left:173.9px;top:599.4px">成本總額</div>
<div class="lb" style="left:174.2px;top:619.8px">初: 43,377</div>
<div class="lb" style="left:174.2px;top:635.8px">變: 0.00%</div>
<div class="sv" style="left:195.2px;width:80px;text-align:center;top:665.2px">43,377</div>
<div class="trk" style="left:173.6px;top:687.1px;width:124.0px"></div>
<div class="thm" style="left:231.0px;top:680.0px"></div>
<div class="lf" style="left:334.6px;top:595.0px;width:137.8px;height:111.4px"></div>
<div class="lt" style="left:337.9px;top:602.4px">其他利潤</div>
<div class="lb" style="left:338.2px;top:622.8px">初: 0</div>
<div class="lb" style="left:338.2px;top:638.8px">變: 0.00%</div>
<div class="sv" style="left:300.5px;width:80px;text-align:center;top:667.2px">0</div>
<div class="trk" style="left:341.0px;top:689.1px;width:124.4px"></div>
<div class="thm" style="left:336.0px;top:682.0px"></div>
<div class="lf" style="left:502.4px;top:591.4px;width:132.2px;height:115.0px"></div>
<div class="lt" style="left:504.9px;top:599.4px">所得稅</div>
<div class="lb" style="left:505.2px;top:621.8px">初: 229</div>
<div class="lb" style="left:505.2px;top:637.8px">變: 0.00%</div>
<div class="sv" style="left:530.3px;width:80px;text-align:center;top:670.2px">229</div>
<div class="trk" style="left:511.6px;top:692.1px;width:116.4px"></div>
<div class="thm" style="left:566.0px;top:685.0px"></div>
<div class="lf" style="left:664.4px;top:598.4px;width:133.2px;height:109.6px"></div>
<div class="lt" style="left:667.3px;top:605.4px">流動負債</div>
<div class="lb" style="left:667.6px;top:627.8px">初: 6,990</div>
<div class="lb" style="left:667.6px;top:643.8px">變: 0.00%</div>
<div class="sv" style="left:693.0px;width:80px;text-align:center;top:670.2px">6,995</div>
<div class="trk" style="left:674.4px;top:692.1px;width:115.2px"></div>
<div class="thm" style="left:728.0px;top:685.0px"></div>
<div class="lf" style="left:823.4px;top:597.6px;width:133.2px;height:110.4px"></div>
<div class="lt" style="left:827.9px;top:604.4px">長期負債</div>
<div class="lb" style="left:828.2px;top:626.8px">初: 8,453</div>
<div class="lb" style="left:828.2px;top:642.8px">變: 0.00%</div>
<div class="sv" style="left:852.0px;width:80px;text-align:center;top:669.2px">8,453</div>
<div class="trk" style="left:832.6px;top:691.1px;width:117.8px"></div>
<div class="thm" style="left:887.0px;top:684.0px"></div>
<div class="lf" style="left:979.6px;top:596.4px;width:137.8px;height:111.0px"></div>
<div class="lt" style="left:981.9px;top:603.4px">流動資產</div>
<div class="lb" style="left:982.2px;top:626.8px">初: 16,473</div>
<div class="lb" style="left:982.2px;top:642.8px">變: 0.00%</div>
<div class="sv" style="left:1006.5px;width:80px;text-align:center;top:671.2px">16,473</div>
<div class="trk" style="left:988.0px;top:693.1px;width:120.4px"></div>
<div class="thm" style="left:1041.6px;top:686.0px"></div>
<div class="lf" style="left:1142.4px;top:597.0px;width:142.6px;height:110.4px"></div>
<div class="lt" style="left:1146.5px;top:604.4px">非流動資產</div>
<div class="lb" style="left:1146.8px;top:624.8px">初值: 9,356</div>
<div class="lb" style="left:1146.8px;top:640.8px">變動率: 0.00%</div>
<div class="sv" style="left:1171.0px;width:80px;text-align:center;top:670.2px">9,356</div>
<div class="trk" style="left:1149.4px;top:692.1px;width:135.6px"></div>
<div class="thm" style="left:1206.0px;top:685.0px"></div>
<svg style="left:0;top:95px" width="210" height="200" viewBox="0 95 210 200"><defs>
<linearGradient id="bz1" x1="0" y1="0" x2="0" y2="1"><stop offset="0" stop-color="#c6c6c6"/><stop offset="1" stop-color="#8e8e8e"/></linearGradient>
<linearGradient id="bz2" x1="0" y1="0" x2="0" y2="1"><stop offset="0" stop-color="#f8f8f8"/><stop offset=".5" stop-color="#e6e6e6"/><stop offset="1" stop-color="#c2c2c2"/></linearGradient>
<linearGradient id="bz3" x1="0" y1="0" x2="0" y2="1"><stop offset="0" stop-color="#c9c9c9"/><stop offset=".5" stop-color="#a9a9a9"/><stop offset="1" stop-color="#8b8b8b"/></linearGradient>
<linearGradient id="fc" x1="0" y1="0" x2="0" y2="1"><stop offset="0" stop-color="#1d1614"/><stop offset=".35" stop-color="#2e2523"/><stop offset=".7" stop-color="#554d4a"/><stop offset="1" stop-color="#7c7572"/></linearGradient>
<radialGradient id="hl" cx="92" cy="166" r="46" gradientUnits="userSpaceOnUse"><stop offset="0" stop-color="#fff" stop-opacity=".32"/><stop offset=".55" stop-color="#fff" stop-opacity=".12"/><stop offset="1" stop-color="#fff" stop-opacity="0"/></radialGradient>
<linearGradient id="nd" x1="0" y1="0" x2="1" y2="0"><stop offset="0" stop-color="#f6e04a"/><stop offset=".45" stop-color="#fbe98a"/><stop offset="1" stop-color="#f5d93a"/></linearGradient>
</defs><circle cx="103.0" cy="195.0" r="86.8" fill="url(#bz1)"/><circle cx="103.0" cy="195.0" r="84.9" fill="url(#bz2)"/><circle cx="103.0" cy="195.0" r="78.8" fill="url(#bz3)"/><circle cx="103.0" cy="195.0" r="75.5" fill="#241b19"/><circle cx="103.0" cy="195.0" r="72" fill="url(#fc)"/><circle cx="103.0" cy="195.0" r="57" fill="url(#hl)"/><path d="M58.74 239.26A62.6 62.6 0 0 1 43.46 214.34" stroke="#ff0000" stroke-width="11" fill="none"/><path d="M43.46 214.34A62.6 62.6 0 0 1 74.58 139.22" stroke="#fddc07" stroke-width="11" fill="none"/><path d="M74.58 139.22A62.6 62.6 0 0 1 147.26 239.26" stroke="#6bcb59" stroke-width="11" fill="none"/><path d="M80.60 222.67A35.6 35.6 0 1 1 125.40 222.67" stroke="#1f86d6" stroke-width="3" fill="none"/><line x1="81.35" y1="221.73" x2="76.25" y2="228.03" stroke="#1f86d6" stroke-width="3"/><line x1="75.35" y1="174.54" x2="68.84" y2="169.72" stroke="#1f86d6" stroke-width="3"/><line x1="130.65" y1="174.54" x2="137.16" y2="169.72" stroke="#1f86d6" stroke-width="3"/><line x1="124.65" y1="221.73" x2="129.75" y2="228.03" stroke="#1f86d6" stroke-width="3"/><g transform="rotate(-28.4 103.0 195.0)"><path d="M102.5 134.0 L103.5 134.0 L108.9 156.0 L106.9 177.0 L99.1 177.0 L97.1 154.0 Z" fill="url(#nd)"/><path d="M99.2 177.0 L101.2 189.4 M106.8 177.0 L104.8 189.4" stroke="#d9d4c4" stroke-width=".8" fill="none"/></g><circle cx="103.0" cy="195.0" r="5.8" fill="#2a2220" stroke="#9c9894" stroke-width=".9"/><circle cx="103.0" cy="195.0" r="2.4" fill="#4a4644" stroke="#1b1715" stroke-width=".8"/></svg>
<div style="left:64.5px;top:149.4px;font-size:11px;line-height:13px;color:#fff;white-space:nowrap;letter-spacing:-.2px">20.00%</div>
<div style="left:3px;width:200px;text-align:center;top:200.8px;font-size:16.4px;line-height:20px;font-weight:bold;letter-spacing:.15px;color:#fff;white-space:nowrap">股東權益報酬率</div>
<div style="left:3px;width:200px;text-align:center;top:221.5px;font-size:18px;line-height:22px;font-weight:bold;color:#fff;white-space:nowrap;letter-spacing:.9px">(ROE)</div>
<div style="left:3px;width:200px;text-align:center;top:242.4px;font-size:16.2px;line-height:20px;font-weight:bold;color:#fff;white-space:nowrap">19.87%</div>
<div class="sb"></div>
<div style="left:1px;top:720.5px;width:18px;height:15.5px;background:linear-gradient(#f4f5f7,#e3e6ea)"></div>
<div style="left:19px;top:720.5px;width:1234px;height:15.5px;border-radius:2px;background:linear-gradient(#ffffff,#fafbfc 30%,#e2e6eb 68%,#c9d0d8);box-shadow:inset 1px 0 0 #aab4c2,inset -1px 0 0 #aab4c2"></div>
<div style="left:1254px;top:720.5px;width:17px;height:15.5px;background:linear-gradient(#f4f5f7,#e3e6ea)"></div>
<svg style="left:0;top:720px" width="1271" height="18"><path d="M7 8.4 L11.4 4.6 V12.2 Z" fill="#1a1a1a"/><path d="M1270 5 V12 L1271 12 V5 Z" fill="#1a1a1a"/></svg>
</div>
</body></html>
